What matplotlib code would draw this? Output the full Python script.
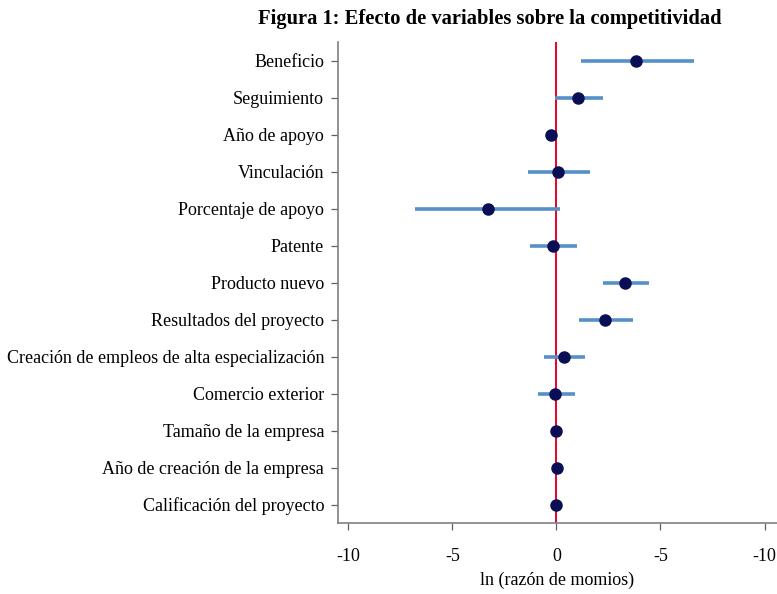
import matplotlib
matplotlib.use("Agg")
import matplotlib.pyplot as plt

categories = ["Beneficio", "Seguimiento", "Año de apoyo", "Vinculación",
              "Porcentaje de apoyo", "Patente", "Producto nuevo",
              "Resultados del proyecto",
              "Creación de empleos de alta especialización",
              "Comercio exterior", "Tamaño de la empresa",
              "Año de creación de la empresa", "Calificación del proyecto"]
estimates = [3.83, 1.03, -0.26, 0.06, -3.30, -0.18, 3.30, 2.31, 0.35, -0.06, -0.03, 0.03, -0.01]
ci_low = [1.19, -0.05, -0.26, -1.38, -6.78, -1.25, 2.23, 1.07, -0.61, -0.90, -0.03, 0.03, -0.01]
ci_high = [6.60, 2.23, -0.26, 1.59, 0.19, 0.98, 4.44, 3.67, 1.38, 0.90, -0.03, 0.03, -0.01]
xticks = [-10, -5, 0, 5, 10]
xtick_labels = ["-10", "-5", "0", "-5", "-10"]

plt.rcParams['font.family'] = ['Liberation Serif', 'DejaVu Serif']

fig = plt.figure(figsize=(7.77, 5.94), dpi=100)
ax = fig.add_axes([0.435, 0.1195, 0.565, 0.8095])

n = len(categories)
ypos = [n - 1 - i for i in range(n)]

ax.axvline(0, color="#e8002a", lw=1.4, zorder=1)
ax.hlines(ypos, ci_low, ci_high, color="#5590c8", lw=2.6, zorder=2)
ax.plot(estimates, ypos, 'o', color="#0a0f55", markersize=8, zorder=3)

ax.set_xlim(-10.5, 10.6)
ax.set_ylim(-0.5, n - 0.5)
ax.set_yticks(ypos)
ax.set_yticklabels(categories, fontsize=13)
ax.set_xticks(xticks)
ax.set_xticklabels(xtick_labels, fontsize=13)
ax.set_xlabel("ln (razón de momios)", fontsize=13, labelpad=5)

for s in ["top", "right"]:
    ax.spines[s].set_visible(False)
for s in ["left", "bottom"]:
    ax.spines[s].set_color("#808080")
    ax.spines[s].set_linewidth(1.2)
ax.tick_params(axis="both", colors="#606060", length=5, width=0.9, labelcolor="black")
ax.tick_params(axis="y", pad=5)
ax.tick_params(axis="x", pad=13)

fig.text(0.631, 0.968, "Figura 1: Efecto de variables sobre la competitividad",
         ha="center", va="center", fontsize=14.8, fontweight="bold")

fig.savefig("out.png", dpi=100)
